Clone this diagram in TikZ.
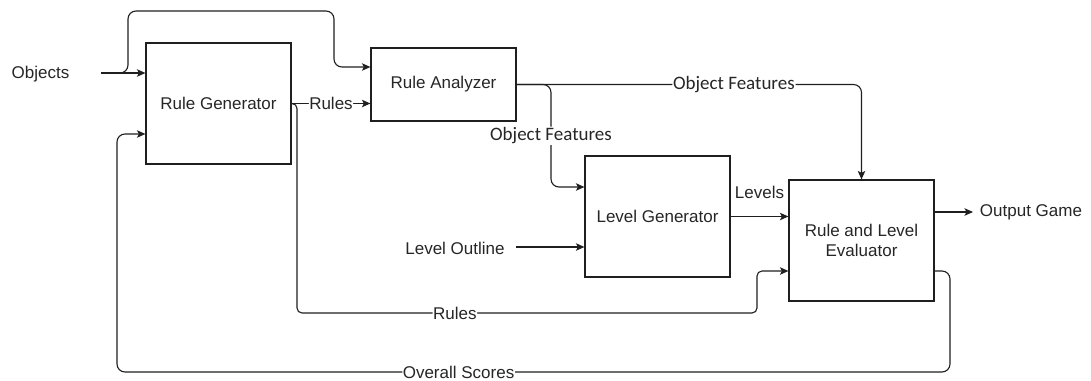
\documentclass[tikz,border=0pt]{standalone}
\usepackage{fontspec}
\setmainfont{Liberation Sans}
\newfontfamily\calib{Carlito}
\usetikzlibrary{arrows.meta,calc}
\definecolor{ink}{rgb}{0.12,0.12,0.12}
\definecolor{txtc}{rgb}{0.15,0.15,0.15}
\begin{document}
\begin{tikzpicture}[x=1pt,y=-1pt,
  font=\fontsize{17}{20.5}\selectfont,
  box/.style={draw=ink, line width=1.2pt, minimum width=145pt, text=txtc, align=center, inner sep=0pt},
  txt/.style={text=txtc, inner sep=0pt},
  conn/.style={draw=ink, line width=1.1pt, rounded corners=8pt},
  arr/.style={conn, -{Stealth[length=8.5pt,width=7.5pt,inset=2pt]}},
  lbl/.style={fill=white, text=txtc, inner sep=0.5pt},
  flbl/.style={fill=white, text=txtc, inner sep=0.8pt, font=\calib\fontsize{19}{22}\selectfont}]
\useasboundingbox (0,0) rectangle (1091,380);

% boxes
\node[box, minimum height=121pt] (rg) at (218.5,103.5) {Rule Generator};
\node[box, minimum height=73pt] (ra) at (443.5,84.5) {Rule Analyzer};
\node[box, minimum height=121pt] (lg) at (657.5,216.5) {Level Generator};
\node[box, minimum height=121pt] (rle) at (861.5,240.5) {Rule and Level\\Evaluator};

% free texts
\node[txt] (obj) at (40.5,74) {Objects};
\node[txt] (lo) at (455,248) {Level Outline};
\node[txt] (og) at (1031,212) {Output Game};
\coordinate (objout) at (101,73);
\coordinate (loout) at (516,247);
\coordinate (ogin) at (973,212);

% Objects -> Rule Generator
\draw[arr] (objout) -- (rg.west |- objout);
% Objects -> Rule Analyzer (over the top)
\draw[arr] (objout) -| (128,11) -| (334,67) -- (ra.west |- 0,67);
% Rules -> Rule Analyzer
\draw[arr] (rg.east) -- node[lbl]{Rules} (ra.west |- rg.east);
% Rules -> Evaluator
\draw[arr, rounded corners=5pt] (rg.east) -| (297,313) -- node[lbl, pos=0.343]{Rules} (757,313) |- (rle.west |- 0,271);
% Object Features -> Evaluator
\draw[arr] (ra.east) -| node[flbl, pos=0.315]{Object Features} (rle.north);
% Object Features -> Level Generator
\draw[arr] (ra.east) -| node[flbl, pos=0.75]{Object Features} (551,187) -- (lg.west |- 0,187);
% Level Outline -> Level Generator
\draw[arr] (loout) -- (lg.west |- loout);
% Levels
\draw[arr] (lg.east) -- node[txt, midway, yshift=24pt]{Levels} (lg.east -| rle.west);
% Output Game
\draw[arr] (rle.east |- ogin) -- (ogin);
% Overall Scores feedback
\draw[arr] (rle.east |- 0,271) -| (950,372) -- node[lbl, pos=0.59]{Overall Scores} (117,372) |- (rg.west |- 0,134);
\end{tikzpicture}
\end{document}
